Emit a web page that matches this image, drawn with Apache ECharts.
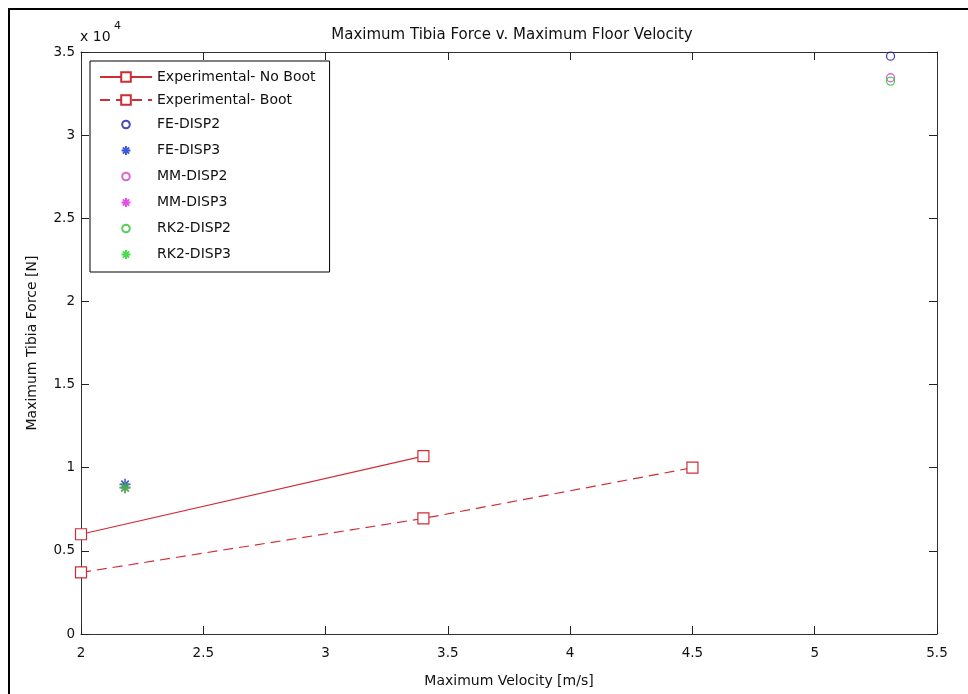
<!DOCTYPE html>
<html><head><meta charset="utf-8">
<script src="https://cdn.jsdelivr.net/npm/echarts@6/dist/echarts.min.js"></script>
<style>html,body{margin:0;padding:0;background:#fff}#c{width:968px;height:694px}</style>
</head><body><div id="c"></div>
<script>
// ---- data ----
const xTickValues = [2, 2.5, 3, 3.5, 4, 4.5, 5, 5.5];
const yTickLabels = ['0', '0.5', '1', '1.5', '2', '2.5', '3', '3.5'];
const noBootX = [2, 3.4];
const noBootY = [6000, 10700];
const bootX = [2, 3.4, 4.5];
const bootY = [3700, 6950, 10000];
const feDisp2 = [[5.31, 34750]];
const feDisp3 = [[2.18, 9000]];
const mmDisp2 = [[5.31, 33450]];
const mmDisp3 = [[2.18, 8800]];
const rk2Disp2 = [[5.31, 33250]];
const rk2Disp3 = [[2.18, 8800]];

const RED = '#d02c34';
const BLUE = '#1c1ca8';
const MAG = '#d040d0';
const GRN = '#30c030';
const STAR = 'path://M5 0L5 10M0 5L10 5M1.6 1.6L8.4 8.4M1.6 8.4L8.4 1.6';
const LEG_CIRCLE = 'path://M0 0M12 12M6 2.2A3.8 3.8 0 1 1 6 9.8A3.8 3.8 0 1 1 6 2.2Z';
const LEG_STAR = 'path://M0 0M12 12M6 1.5L6 10.5M1.5 6L10.5 6M2.9 2.9L9.1 9.1M2.9 9.1L9.1 2.9';
const FONT = 'DejaVu Sans, sans-serif';

const zip = (xs, ys) => xs.map((x, i) => [x, ys[i]]);

const chart = echarts.init(document.getElementById('c'));
const axisCommon = {
  type: 'value',
  axisLine: { show: true, onZero: false, lineStyle: { color: '#333', width: 1 } },
  axisTick: { show: true, inside: true, length: 8, lineStyle: { color: '#222' } },
  splitLine: { show: false }
};
function scatter(name, data, symbol, color, size, bw) {
  return {
    name, type: 'scatter', data, symbol, symbolSize: size,
    itemStyle: { color: 'none', borderColor: color, borderWidth: bw },
    emphasis: { disabled: true }, z: 3
  };
}
chart.setOption({
  animation: false,
  backgroundColor: '#fff',
  title: {
    text: 'Maximum Tibia Force v. Maximum Floor Velocity',
    left: 507, top: 23, textAlign: 'center',
    textStyle: { fontFamily: FONT, fontSize: 15, fontWeight: 'normal', color: '#111' }
  },
  grid: { left: 81, right: 31, top: 52, bottom: 60 },
  legend: {
    left: 90, top: 61, orient: 'vertical',
    backgroundColor: '#fff', borderColor: '#000', borderWidth: 1,
    padding: [9, 14, 9, 9],
    itemWidth: 52, itemHeight: 12, itemGap: 9,
    symbolKeepAspect: true,
    textStyle: { fontFamily: FONT, fontSize: 14, color: '#111' },
    data: [
      { name: 'Experimental- No Boot' },
      { name: 'Experimental- Boot' },
      { name: 'FE-DISP2', icon: LEG_CIRCLE },
      { name: 'FE-DISP3', icon: LEG_STAR },
      { name: 'MM-DISP2', icon: LEG_CIRCLE },
      { name: 'MM-DISP3', icon: LEG_STAR },
      { name: 'RK2-DISP2', icon: LEG_CIRCLE },
      { name: 'RK2-DISP3', icon: LEG_STAR }
    ]
  },
  xAxis: [
    Object.assign({}, axisCommon, {
      min: 2, max: 5.5, interval: 0.5, position: 'bottom',
      axisLabel: { show: true, margin: 12, color: '#111', fontFamily: FONT, fontSize: 13.5,
        formatter: v => xTickValues.includes(+v) ? String(+v) : '' },
      name: 'Maximum Velocity [m/s]', nameLocation: 'middle', nameGap: 40,
      nameTextStyle: { fontFamily: FONT, fontSize: 14, color: '#111' }
    }),
    Object.assign({}, axisCommon, { min: 2, max: 5.5, interval: 0.5, position: 'top', axisLabel: { show: false } })
  ],
  yAxis: [
    Object.assign({}, axisCommon, {
      min: 0, max: 35000, interval: 5000, position: 'left',
      axisLabel: { show: true, margin: 6, color: '#111', fontFamily: FONT, fontSize: 13.5,
        formatter: v => yTickLabels[Math.round(v / 5000)] },
      name: 'Maximum Tibia Force [N]', nameLocation: 'middle', nameGap: 42,
      nameTextStyle: { fontFamily: FONT, fontSize: 14, color: '#111' }
    }),
    Object.assign({}, axisCommon, { min: 0, max: 35000, interval: 5000, position: 'right', axisLabel: { show: false } })
  ],
  graphic: [
    { type: 'rect', shape: { x: 9, y: 9, width: 2000, height: 2000 }, style: { fill: 'none', stroke: '#000', lineWidth: 2 }, silent: true },
    { type: 'text', left: 80, top: 30, style: { text: 'x 10', font: '14px ' + FONT, fill: '#111' } },
    { type: 'text', left: 114, top: 21, style: { text: '4', font: '11px ' + FONT, fill: '#111' } }
  ],
  series: [
    { name: 'Experimental- No Boot', type: 'line', data: zip(noBootX, noBootY), symbol: 'rect', symbolSize: 11,
      lineStyle: { color: RED, width: 1.2 }, itemStyle: { color: '#fff', borderColor: RED, borderWidth: 1.2 }, emphasis: { disabled: true } },
    { name: 'Experimental- Boot', type: 'line', data: zip(bootX, bootY), symbol: 'rect', symbolSize: 11,
      lineStyle: { color: RED, width: 1.2, type: [10, 6] }, itemStyle: { color: '#fff', borderColor: RED, borderWidth: 1.2 }, emphasis: { disabled: true } },
    scatter('FE-DISP2', feDisp2, 'circle', BLUE, 8, 1.3),
    scatter('FE-DISP3', feDisp3, STAR, '#1030d0', 11, 1.6),
    scatter('MM-DISP2', mmDisp2, 'circle', MAG, 8, 1.3),
    scatter('MM-DISP3', mmDisp3, STAR, '#e020e0', 11, 1.6),
    scatter('RK2-DISP2', rk2Disp2, 'circle', GRN, 8, 1.3),
    scatter('RK2-DISP3', rk2Disp3, STAR, '#20d020', 11, 1.6)
  ]
});
</script></body></html>
